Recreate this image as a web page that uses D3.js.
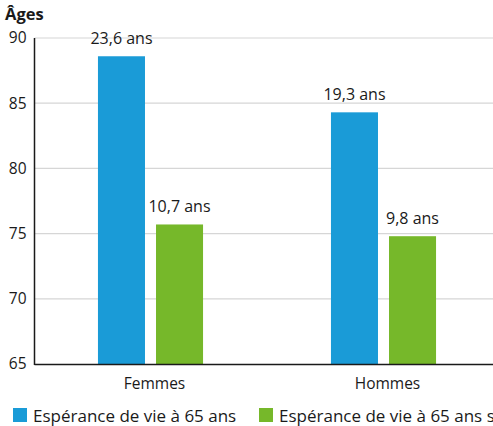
<!DOCTYPE html>
<html>
<head>
<meta charset="utf-8">
<script src="https://cdn.jsdelivr.net/npm/d3@7"></script>
<style>
  html, body { margin: 0; padding: 0; background: #fff; }
  svg { display: block; font-family: "Open Sans", "Noto Sans", sans-serif; }
</style>
</head>
<body>
<svg id="chart" width="493" height="426"></svg>
<script>
// Life expectancy at 65, in years, by sex
const categories = ["Femmes", "Hommes"];
const seriesNames = ["Espérance de vie à 65 ans", "Espérance de vie à 65 ans sans incapacité"];
const esperance = [23.6, 19.3];
const sansIncapacite = [10.7, 9.8];
const baseAge = 65;
const yTicks = [65, 70, 75, 80, 85, 90];
const colors = ["#1a9bd7", "#76b82a"];

const rows = categories.map((c, i) => ({
  category: c,
  values: [esperance[i], sansIncapacite[i]]
}));

const svg = d3.select("#chart");
const plotLeft = 34.5, plotRight = 500, plotTop = 38, plotBottom = 364;

const x0 = d3.scaleBand().domain(categories).range([plotLeft - 0.5, plotRight])
  .paddingInner(0.549).paddingOuter(0.2745);
const x1 = d3.scaleBand().domain(d3.range(seriesNames.length))
  .range([0, x0.bandwidth()]).paddingInner(0.19).paddingOuter(0);
const y = d3.scaleLinear().domain([65, 90]).range([plotBottom, plotTop]);

// horizontal gridlines
svg.append("g").selectAll("line").data(yTicks.filter(t => t > 65)).join("line")
  .attr("x1", plotLeft).attr("x2", 493)
  .attr("y1", d => y(d)).attr("y2", d => y(d))
  .attr("stroke", "#d6d6d6").attr("stroke-width", 1.2);

// y axis labels
const yAxis = svg.append("g").attr("transform", `translate(${plotLeft},0)`)
  .call(d3.axisLeft(y).tickValues(yTicks).tickSize(0).tickPadding(8));
yAxis.select(".domain").remove();
yAxis.selectAll("text").attr("font-size", 15.5).attr("fill", "#1a1a1a")
  .attr("font-family", "'Open Sans', sans-serif");

// bars
const groups = svg.append("g").selectAll("g").data(rows).join("g")
  .attr("transform", d => `translate(${x0(d.category)},0)`);

groups.selectAll("rect").data(d => d.values.map((v, i) => ({ v, i }))).join("rect")
  .attr("x", d => x1(d.i))
  .attr("width", x1.bandwidth())
  .attr("y", d => y(baseAge + d.v))
  .attr("height", d => y(65) - y(baseAge + d.v))
  .attr("fill", d => colors[d.i]);

// value labels above bars
groups.selectAll("text").data(d => d.values.map((v, i) => ({ v, i }))).join("text")
  .attr("x", d => x1(d.i) + x1.bandwidth() / 2)
  .attr("y", d => y(baseAge + d.v) - 12)
  .attr("text-anchor", "middle")
  .attr("font-size", 16)
  .attr("fill", "#1a1a1a")
  .text(d => d3.format(".1f")(d.v).replace(".", ",") + " ans");

// axes lines
svg.append("line").attr("x1", plotLeft).attr("x2", plotLeft).attr("y1", plotTop).attr("y2", plotBottom + 1)
  .attr("stroke", "#1a1a1a").attr("stroke-width", 1.5);
svg.append("line").attr("x1", plotLeft).attr("x2", 493).attr("y1", plotBottom + 0.5).attr("y2", plotBottom + 0.5)
  .attr("stroke", "#1a1a1a").attr("stroke-width", 1.5);

// category labels
svg.append("g").selectAll("text").data(categories).join("text")
  .attr("x", d => x0(d) + x0.bandwidth() / 2 + 4)
  .attr("y", 389)
  .attr("text-anchor", "middle")
  .attr("font-size", 15.5)
  .attr("fill", "#1a1a1a")
  .text(d => d);

// axis title
svg.append("text").attr("x", 5).attr("y", 20)
  .attr("font-size", 16.5).attr("font-weight", "bold").attr("fill", "#1a1a1a")
  .text("Âges");

// legend
const legendX = [13, 259];
const legend = svg.append("g").selectAll("g").data(seriesNames).join("g")
  .attr("transform", (d, i) => `translate(${legendX[i]},408)`);
legend.append("rect").attr("width", 14).attr("height", 14).attr("fill", (d, i) => colors[i]);
legend.append("text").attr("x", 20).attr("y", 14)
  .attr("font-size", 17).attr("fill", "#1a1a1a").text(d => d);
</script>
</body>
</html>
